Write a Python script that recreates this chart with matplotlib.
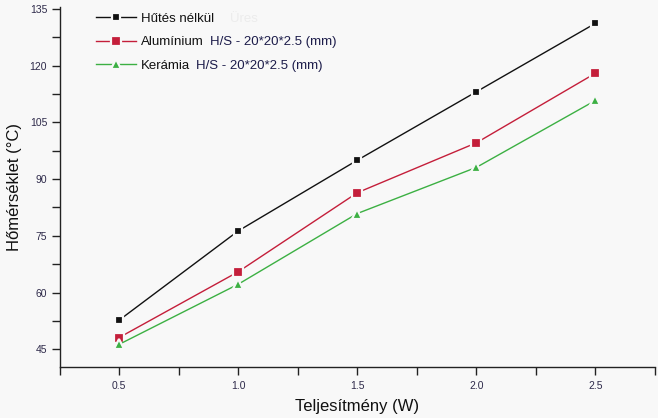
import matplotlib
matplotlib.use("Agg")
import matplotlib.pyplot as plt
from matplotlib.ticker import MultipleLocator, FixedLocator

# data
power = [0.5, 1.0, 1.5, 2.0, 2.5]
no_cooling = [52.7, 76.3, 95.0, 113.1, 131.2]
aluminium = [48.1, 65.5, 86.4, 99.6, 118.0]
ceramic = [46.3, 62.2, 80.9, 93.1, 110.8]

labels = ["Hűtés nélkül", "Alumínium", "Kerámia"]
label_suffix = ["", "H/S - 20*20*2.5 (mm)", "H/S - 20*20*2.5 (mm)"]
x_ticks = [0.5, 1.0, 1.5, 2.0, 2.5]
y_ticks = [45, 60, 75, 90, 105, 120, 135]

bg = "#f8f8f8"
narrow = ["Liberation Sans Narrow", "Liberation Sans", "DejaVu Sans"]
tick_col = "#2e2a4a"

fig = plt.figure(figsize=(6.58, 4.18), dpi=100, facecolor=bg)
ax = fig.add_axes([0.0907, 0.122, 0.9047, 0.862], facecolor=bg)

series = [
    (no_cooling, "#111111", "s", 6),
    (aluminium, "#c41e3a", "s", 7),
    (ceramic, "#3cb043", "^", 7),
]
handles = []
for (vals, col, mk, ms) in series:
    h, = ax.plot(power, vals, color=col, lw=1.0, marker=mk, ms=ms,
                 markerfacecolor=col, markeredgecolor=bg, markeredgewidth=1.6)
    handles.append(h)

ax.set_xlim(0.25, 2.75)
ax.set_ylim(40.3, 135.6)
ax.xaxis.set_major_locator(FixedLocator(x_ticks))
ax.xaxis.set_minor_locator(MultipleLocator(0.25))
ax.yaxis.set_major_locator(FixedLocator(y_ticks))
ax.yaxis.set_minor_locator(MultipleLocator(7.5))

for s in ["top", "right"]:
    ax.spines[s].set_visible(False)
for s in ["left", "bottom"]:
    ax.spines[s].set_color("#222222")
    ax.spines[s].set_linewidth(1.0)

ax.tick_params(which="both", direction="out", color="#222222", width=1.0, length=6)
ax.tick_params(axis="x", which="major", pad=4)
ax.tick_params(axis="y", which="major", pad=3)
for lab in ax.get_xticklabels() + ax.get_yticklabels():
    lab.set_family(narrow)
    lab.set_fontsize(7.5)
    lab.set_color(tick_col)

ax.set_xlabel("Teljesítmény (W)", family=narrow, fontsize=12, color="#111111")
ax.set_ylabel("Hőmérséklet (°C)", family=narrow, fontsize=12, color="#111111")
ax.xaxis.set_label_coords(0.5, -0.088)
ax.yaxis.set_label_coords(-0.063, 0.5)

leg = ax.legend(handles, labels, loc="upper left", bbox_to_anchor=(0.041, 1.016),
                frameon=False, handlelength=3.0, handletextpad=0.4,
                labelspacing=0.85, prop={"family": ["Liberation Sans", "DejaVu Sans"], "size": 9.5})
for t in leg.get_texts():
    t.set_color("#111111")
fig.canvas.draw()

# second part of the legend labels and the faint placeholder text
inv = fig.transFigure.inverted()
for t, suffix in zip(leg.get_texts(), label_suffix):
    bb = t.get_window_extent()
    x0, y0 = inv.transform((bb.x1 + 6, (bb.y0 + bb.y1) / 2))
    if suffix:
        fig.text(x0, y0, suffix, ha="left", va="center", fontsize=9.5,
                 family=["Liberation Sans", "DejaVu Sans"], color="#1c1c4a")
    else:
        fig.text(x0 + 0.015, y0, "Üres", ha="left", va="center", fontsize=9.5,
                 family=["Liberation Sans", "DejaVu Sans"], color="#ececec")

fig.savefig("out.png", dpi=100, facecolor=bg)
